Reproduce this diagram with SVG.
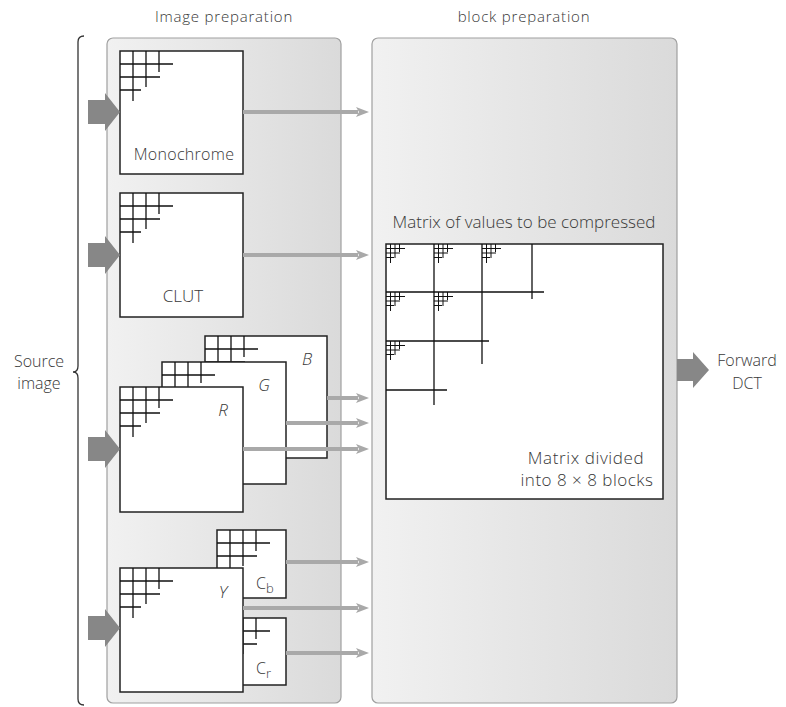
<svg xmlns="http://www.w3.org/2000/svg" width="786" height="707" viewBox="0 0 786 707">
<style>
  .t{font-family:"Open Sans","Liberation Sans",sans-serif;fill:#383838;font-size:16px;font-weight:300}
  .hd{font-size:15px;letter-spacing:0.8px}
  .big{font-size:17px}
  .lab{font-family:"Open Sans","Liberation Sans",sans-serif;fill:#383838;font-size:17px;font-style:italic;font-weight:300}
  .box{fill:#fff;stroke:#222;stroke-width:1.5}
  .grid{fill:none;stroke:#111;stroke-width:1.3}
  .mini{fill:none;stroke:#111;stroke-width:1}
  .panel{stroke:#a0a0a0;stroke-width:1.2}
  .out{stroke:#a9a9a9;stroke-width:4;fill:none}
  .inarr{fill:#878787}
</style>
<defs>
  <linearGradient id="pg" x1="0" y1="0" x2="1" y2="0">
    <stop offset="0" stop-color="#f1f1f1"/>
    <stop offset="1" stop-color="#dadada"/>
  </linearGradient>
  <path id="grid" class="grid" d="M13,0V50M26,0V36M39,0V21M0,13H53M0,26H40M0,39H21"/>
  <path id="mg" class="mini" d="M4.5,0V19M9,0V14M13.5,0V8M0,4.5H19M0,9H14M0,13.5H8"/>
  <polygon id="inA" class="inarr" points="-32,-12 -15,-12 -15,-19 0,0 -15,19 -15,12 -32,12"/>
  <polygon id="head" fill="#a9a9a9" points="-13,-5 0,0 -13,5 -10,0"/>
</defs>

<!-- headers and side labels -->
<text class="t hd" x="224" y="22" text-anchor="middle">Image preparation</text>
<text class="t hd" x="524" y="22" text-anchor="middle">block preparation</text>
<g id="source">
  <text class="t" x="39" y="367" text-anchor="middle">Source</text>
  <text class="t" x="39" y="389" text-anchor="middle">image</text>
  <path d="M84,36 Q78,36 78,42 L78,366 Q78,372 73,372 Q78,372 78,378 L78,699 Q78,705 84,705" fill="none" stroke="#333" stroke-width="1.3"/>
</g>

<!-- panels -->
<g id="panel-image">
  <rect class="panel" x="107" y="38" width="234" height="665" rx="6" fill="url(#pg)"/>
</g>
<g id="panel-block">
  <rect class="panel" x="372" y="38" width="305" height="665" rx="6" fill="url(#pg)"/>
</g>

<!-- Monochrome -->
<g id="mono">
  <rect class="box" x="120" y="51" width="123" height="123"/>
  <use href="#grid" x="120" y="51"/>
  <text class="t" x="184" y="160" text-anchor="middle" letter-spacing="0.3">Monochrome</text>
</g>

<!-- CLUT -->
<g id="clut">
  <rect class="box" x="120" y="193" width="123" height="124"/>
  <use href="#grid" x="120" y="193"/>
  <text class="t big" x="183" y="302" text-anchor="middle">CLUT</text>
</g>

<!-- RGB -->
<g id="rgb-b">
  <rect class="box" x="205" y="336" width="122" height="122"/>
  <use href="#grid" x="205" y="336"/>
  <text class="lab" x="307" y="365" text-anchor="middle">B</text>
</g>
<g id="rgb-g">
  <rect class="box" x="162" y="362" width="124" height="122"/>
  <use href="#grid" x="162" y="362"/>
  <text class="lab" x="264" y="391" text-anchor="middle">G</text>
</g>
<g id="rgb-r">
  <rect class="box" x="120" y="387" width="123" height="125"/>
  <use href="#grid" x="120" y="387"/>
  <text class="lab" x="223" y="416" text-anchor="middle">R</text>
</g>

<!-- YCbCr -->
<g id="ycc-cb">
  <rect class="box" x="217" y="530" width="69" height="68"/>
  <use href="#grid" x="217" y="530"/>
  <text class="t" x="256" y="589" font-size="19">C<tspan font-size="13" dy="4">b</tspan></text>
</g>
<g id="ycc-cr">
  <rect class="box" x="217" y="618" width="69" height="67"/>
  <use href="#grid" x="217" y="618"/>
  <text class="t" x="256" y="674" font-size="19">C<tspan font-size="13" dy="4">r</tspan></text>
</g>
<g id="ycc-y">
  <rect class="box" x="120" y="568" width="123" height="124"/>
  <use href="#grid" x="120" y="568"/>
  <text class="lab" x="223" y="598" text-anchor="middle">Y</text>
</g>

<!-- Matrix -->
<g id="matrix">
  <text class="t big" x="524" y="228" text-anchor="middle">Matrix of values to be compressed</text>
  <rect class="box" x="386" y="244" width="277" height="255"/>
  <path class="grid" d="M434,244V405M482,244V364M532,244V299M386,292H544M386,341H489M386,390H447"/>
  <use href="#mg" x="386" y="244"/>
  <use href="#mg" x="434" y="244"/>
  <use href="#mg" x="482" y="244"/>
  <use href="#mg" x="386" y="292"/>
  <use href="#mg" x="434" y="292"/>
  <use href="#mg" x="386" y="341"/>
  <text class="t big" x="586" y="464" text-anchor="middle" letter-spacing="0.6">Matrix divided</text>
  <text class="t big" x="587" y="486" text-anchor="middle" letter-spacing="0.5">into 8 × 8 blocks</text>
</g>

<g id="dct">
  <text class="t" x="747" y="366" text-anchor="middle">Forward</text>
  <text class="t" x="747" y="389" text-anchor="middle">DCT</text>
</g>

<!-- connectors -->
<g id="connectors">
  <use href="#inA" x="120" y="112"/>
  <use href="#inA" x="120" y="255"/>
  <use href="#inA" x="120" y="449"/>
  <use href="#inA" x="120" y="628"/>
  <polygon class="inarr" points="677,359 693,359 693,352 709,370 693,388 693,381 677,381"/>

  <path class="out" d="M243,112H358M243,255H358M327,398H358M286,423H358M243,449H358M286,562H358M243,608H358M286,653H358"/>
  <use href="#head" x="369" y="112"/>
  <use href="#head" x="369" y="255"/>
  <use href="#head" x="369" y="398"/>
  <use href="#head" x="369" y="423"/>
  <use href="#head" x="369" y="449"/>
  <use href="#head" x="369" y="562"/>
  <use href="#head" x="369" y="608"/>
  <use href="#head" x="369" y="653"/>
</g>
</svg>
